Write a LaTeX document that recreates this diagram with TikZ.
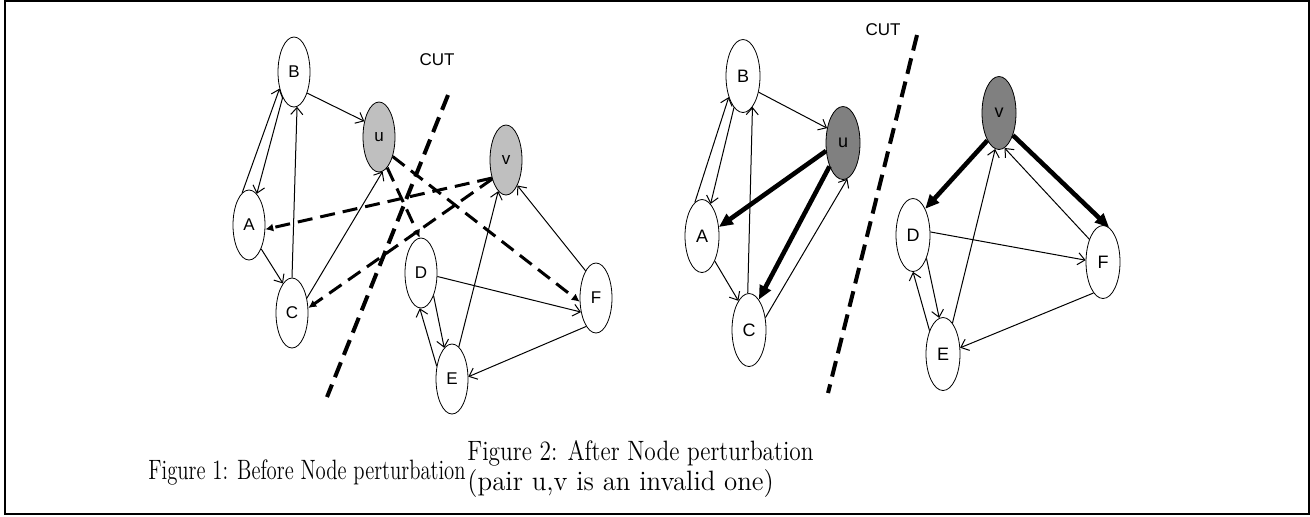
\documentclass[tikz,border=0pt]{standalone}
\usepackage{fontspec}
\usepackage{tikz}
\usetikzlibrary{arrows.meta,shapes.geometric}
\newfontfamily\labelfont{Liberation Sans}

\begin{document}
\begin{tikzpicture}[
    x=0.5pt, y=-0.5pt,
    vtx/.style={
        draw,
        ellipse,
        inner sep=0pt,
        minimum width=16pt,
        minimum height=35pt,
        font=\labelfont\fontsize{8.5}{10}\selectfont
    },
    vtxb/.style={
        vtx,
        minimum width=17pt,
        minimum height=36.5pt,
        font=\labelfont\fontsize{9}{11}\selectfont
    },
    hot/.style={fill=black!25},
    hotter/.style={fill=black!50},
    link/.style={-{Straight Barb[length=3.5pt,width=6pt]}, line width=0.5pt},
    dlink/.style={-{Latex[length=4pt,width=4pt]}, line width=1.5pt, dash pattern=on 7.5pt off 4pt},
    heavy/.style={-{Triangle[length=7pt,width=6pt]}, line width=2.3pt},
    cutline/.style={line width=2pt, dash pattern=on 8pt off 4pt},
    cutlabel/.style={font=\labelfont\fontsize{8.5}{10}\selectfont},
    caption/.style={inner sep=0pt, anchor=base west, font=\fontsize{14}{17}\selectfont}
]
\useasboundingbox (0,0) rectangle (1310,516);
\draw[line width=1pt] (5,1) rectangle (1309,514);

% Figure 1
\node[vtx] (A) at (249,225) {A};
\node[vtx] (B) at (294,72) {B};
\node[vtx, hot] (u) at (379,137) {u};
\node[vtx, hot] (v) at (506,160) {v};
\node[vtx] (C) at (292,313) {C};
\node[vtx] (D) at (421,273) {D};
\node[vtx] (E) at (452,379) {E};
\node[vtx] (F) at (596,298) {F};

\node[cutlabel] (cut) at (437,60) {CUT};
\coordinate (cuttop) at (448,95);
\coordinate (cutbot) at (327,397);
\draw[cutline] (cuttop) -- (cutbot);

\draw[link] (A.102) -- (B.229);
\draw[link] (B.246) -- (A.76);
\draw[link] (C.90) -- (B.275);
\draw[link] (A.297) -- (C.107);
\draw[link] (C.45) -- (u.276);
\draw[link] (B.302) -- (u.133);
\draw[link] (E.78) -- (v.256);
\draw[link] (F.111) -- (v.294);
\draw[link] (D.348) -- (F.223);
\draw[link] (D.299) -- (E.104);
\draw[link] (E.140) -- (D.268);
\draw[link] (F.251) -- (E.8);

\draw[dlink] (u.285) -- (D.92);
\draw[dlink] (u.305) -- (F.193);
\draw[dlink] (v.232) -- (A.345);
\draw[dlink] (v.234) -- (C.17);

% Figure 2
\node[vtxb] (A2) at (702,236) {A};
\node[vtxb] (B2) at (743,76) {B};
\node[vtxb, hotter] (u2) at (843,143) {u};
\node[vtxb] (C2) at (749,330) {C};
\node[vtxb, hotter] (v2) at (999,113) {v};
\node[vtxb] (D2) at (913,235) {D};
\node[vtxb] (F2) at (1103,262) {F};
\node[vtxb] (E2) at (943,354) {E};

\node[cutlabel] (cut2) at (883,30) {CUT};
\coordinate (cut2top) at (917,35);
\coordinate (cut2bot) at (828,393);
\draw[cutline] (cut2top) -- (cut2bot);

\draw[link] (A2.102) -- (B2.236);
\draw[link] (B2.254) -- (A2.75);
\draw[link] (C2.92) -- (B2.287);
\draw[link] (A2.297) -- (C2.110);
\draw[link] (B2.314) -- (u2.137);
\draw[link] (C2.37) -- (u2.277);
\draw[link] (E2.73) -- (v2.264);
\draw[link] (F2.121) -- (v2.279);
\draw[link] (D2.10) -- (F2.174);
\draw[link] (D2.300) -- (E2.96);
\draw[link] (E2.120) -- (D2.270);
\draw[link] (F2.253) -- (E2.20);

\draw[heavy] (u2.205) -- (A2.28);
\draw[heavy] (u2.240) -- (C2.72);
\draw[heavy] (v2.247) -- (D2.65);
\draw[heavy] (v2.302) -- (F2.80);

% captions
\node[caption] (cap1) at (148,479) {\scalebox{0.74}[1]{Figure 1: Before Node perturbation}};
\node[caption] (cap2) at (467,460) {\scalebox{0.835}[1]{Figure 2: After Node perturbation}};
\node[caption] (cap2b) at (467,490) {\scalebox{0.96}[1]{(pair u,v is an invalid one)}};
\end{tikzpicture}
\end{document}
